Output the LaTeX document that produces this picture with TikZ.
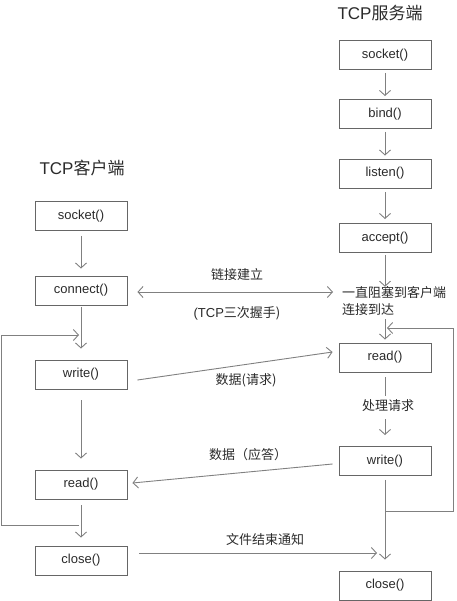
\documentclass[tikz,border=0pt]{standalone}
\usepackage{fontspec}
\setmainfont{Liberation Sans}
\newfontfamily\cjk{Noto Sans CJK SC}
\usetikzlibrary{arrows.meta,calc}
\definecolor{boxc}{HTML}{666666}
\definecolor{linec}{HTML}{808080}
\definecolor{txt}{HTML}{2A2A2A}
\begin{document}
\begin{tikzpicture}[x=1pt,y=-1pt,
  box/.style={draw=boxc, line width=0.9pt, minimum width=92pt, minimum height=29pt, inner sep=0pt, font=\fontsize{13}{15}\selectfont, text=txt},
  conn/.style={draw=linec, line width=0.9pt, -{Straight Barb[length=5pt,width=11pt]}},
  plain/.style={draw=linec, line width=0.9pt},
  lbl/.style={font=\fontsize{13}{17}\selectfont, text=txt, inner sep=0pt},
  ttl/.style={font=\fontsize{17}{20}\selectfont, text=txt, inner sep=0pt}]
\useasboundingbox (0,0) rectangle (456,601);

% titles
\node[ttl] (tserver) at (380,13) {TCP{\cjk 服务端}};
\node[ttl] (tclient) at (82,168) {TCP{\cjk 客户端}};

% client
\node[box] (cs) at (81,216) {socket()};
\node[box] (cc) at (81,290.5) {connect()};
\node[box] (cw) at (81,374.5) {write()};
\node[box] (cr) at (81,484.5) {read()};
\node[box] (ccl) at (81,560.5) {close()};

% server
\node[box] (ss) at (385,55) {socket()};
\node[box] (sb) at (385,114) {bind()};
\node[box] (sl) at (385,173.5) {listen()};
\node[box] (sa) at (385,238) {accept()};
\node[lbl, anchor=west, align=left] (blk) at (342,301.5) {{\cjk 一直阻塞到客户端}\\{\cjk 连接到达}};
\node[box] (sr) at (385,357.5) {read()};
\node[lbl] (proc) at (388,406) {\cjk 处理请求};
\node[box] (sw) at (385,461) {write()};
\node[box] (scl) at (385,585.5) {close()};

% labels
\node[lbl] (l1) at (237,275) {\cjk 链接建立};
\node[lbl] (l2) at (237,313) {(TCP{\cjk 三次握手)}};
\node[lbl] (l3) at (246,380) {\cjk 数据(请求)};
\node[lbl] (l4) at (248,455) {\cjk 数据（应答）};
\node[lbl] (l5) at (265,540) {\cjk 文件结束通知};

% client arrows
\draw[conn, shorten <=5pt, shorten >=7pt] (cs) -- (cc);
\draw[conn, shorten <=2pt, shorten >=11pt] (cc) -- (cw);
\draw[conn, shorten <=11pt, shorten >=11pt] (cw) -- (cr);
\draw[conn, shorten <=6pt, shorten >=8pt] (cr) -- (ccl);

% client loop
\coordinate (clb) at (79,525);
\coordinate (clbl) at (1,525);
\coordinate (cltl) at (1,335);
\coordinate (clt) at (79,335);
\draw[conn] (clb) -- (clbl) -- (cltl) -- (clt);

% server arrows
\draw[conn, shorten <=3pt, shorten >=3pt] (ss) -- (sb);
\draw[conn, shorten <=3pt, shorten >=3pt] (sb) -- (sl);
\draw[conn, shorten <=4pt, shorten >=4pt] (sl) -- (sa);
\draw[conn, shorten <=2pt] (sa.south) -- (sa.south |- blk.north);
\draw[conn, shorten <=3pt, shorten >=3pt] (sa.south |- blk.south) -- (sr.north);
\draw[plain, shorten <=5pt, shorten >=4pt] (sr.south) -- (sr.south |- proc.north);
\draw[conn, shorten <=7pt, shorten >=11pt] (sr.south |- proc.south) -- (sw.north);
\draw[conn, shorten <=4pt, shorten >=11pt] (sw) -- (scl);

% server loop
\coordinate (slb) at (385,511);
\coordinate (slbr) at (453,511);
\coordinate (sltr) at (453,328);
\coordinate (slt) at (387,328);
\draw[conn] (slb) -- (slbr) -- (sltr) -- (slt);

% cross arrows
\draw[draw=linec, line width=0.9pt, {Straight Barb[length=5pt,width=11pt]}-{Straight Barb[length=5pt,width=11pt]}]
  ($(cc.east)+(10,1.5)$) -- ($(blk.west)+(-9,-9.5)$);
\draw[conn] ($(cw.east)+(10,5.5)$) -- ($(sr.west)+(-6,-5.5)$);
\draw[conn] ($(sw.west)+(-6,3)$) -- ($(cr.east)+(5,-1.5)$);
\coordinate (cl2) at (377,553);
\draw[conn] ($(ccl.east)+(12,-7.5)$) -- (cl2);
\end{tikzpicture}
\end{document}
